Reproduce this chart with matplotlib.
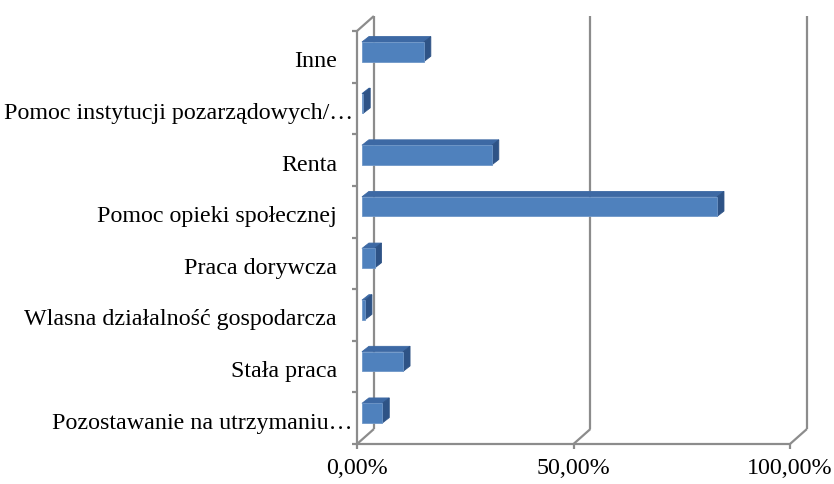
import matplotlib
matplotlib.use("Agg")
import matplotlib.pyplot as plt
from matplotlib.patches import Polygon
from matplotlib.transforms import offset_copy

# kategorie od dołu do góry
kategorie = [
    "Pozostawanie na utrzymaniu…",
    "Stała praca",
    "Wlasna działalność gospodarcza",
    "Praca dorywcza",
    "Pomoc opieki społecznej",
    "Renta",
    "Pomoc instytucji pozarządowych/…",
    "Inne",
]
wartosci = [4.7, 9.5, 0.7, 2.9, 82.0, 30.0, 0.3, 14.3]
x_ticks = [0, 50, 100]
x_labels = ["0,00%", "50,00%", "100,00%"]

plt.rcParams['font.family'] = ['Liberation Serif', 'DejaVu Serif']

fig = plt.figure(figsize=(8.34, 4.85), dpi=100)
ax = fig.add_axes([357/834, 1-445/485, 433/834, 413/485])
ax.set_xlim(0, 100)
ax.set_ylim(0, len(kategorie))
ax.axis('off')

szary = '#8c8c8c'
lw = 1.6
wdx, wdy = 3.9, 0.29      # przesunięcie tylnej ściany
n = len(kategorie)

def linia(xs, ys, **kw):
    ax.plot(xs, ys, color=szary, lw=lw, clip_on=False, solid_capstyle='butt', **kw)

# ściana boczna i linie siatki
linia([0, 0], [0, n])
linia([0, wdx], [n, n + wdy])
linia([0, 100], [0, 0])
for t in x_ticks:
    linia([t + wdx, t + wdx], [wdy, n + wdy])
    linia([t, t + wdx], [0, wdy])

# znaczniki osi
tick_y = 5 / 51.6
tick_x = 5 / 4.33
for i in range(n + 1):
    linia([0, -tick_x], [i, i])
for t in x_ticks:
    linia([t, t], [0, -tick_y])

# słupki 3D
dx0, dy0 = 1.15, 0.097
ddx, ddy = 1.6, 0.105
h = 0.38
front_c = '#4F81BD'
top_c = '#3D69A4'
side_c = '#2E5386'
for i, v in enumerate(wartosci):
    yc = i + 0.5 + dy0
    x0, x1 = dx0, dx0 + v
    y0, y1 = yc - h / 2, yc + h / 2
    front = Polygon([(x0, y0), (x1, y0), (x1, y1), (x0, y1)], closed=True,
                    facecolor=front_c, edgecolor='#6f97c8', lw=0.6, clip_on=False, zorder=3)
    top = Polygon([(x0, y1), (x1, y1), (x1 + ddx, y1 + ddy), (x0 + ddx, y1 + ddy)], closed=True,
                  facecolor=top_c, edgecolor=top_c, lw=0.6, clip_on=False, zorder=3)
    side = Polygon([(x1, y0), (x1 + ddx, y0 + ddy), (x1 + ddx, y1 + ddy), (x1, y1)], closed=True,
                   facecolor=side_c, edgecolor=side_c, lw=0.6, clip_on=False, zorder=3)
    ax.add_patch(top)
    ax.add_patch(side)
    ax.add_patch(front)

# etykiety kategorii
for i, k in enumerate(kategorie):
    off = -4 if k.endswith("…") else -20
    tr = offset_copy(ax.transData, fig=fig, x=off, y=-4, units='dots')
    ax.text(0, i + 0.5, k, transform=tr, ha='right', va='center', fontsize=17.3)

# etykiety osi X
for t, lab in zip(x_ticks, x_labels):
    tr = offset_copy(ax.transData, fig=fig, x=0, y=-24, units='dots')
    ax.text(t, 0, lab, transform=tr, ha='center', va='center', fontsize=17.3)

fig.savefig('out.png', dpi=100)
